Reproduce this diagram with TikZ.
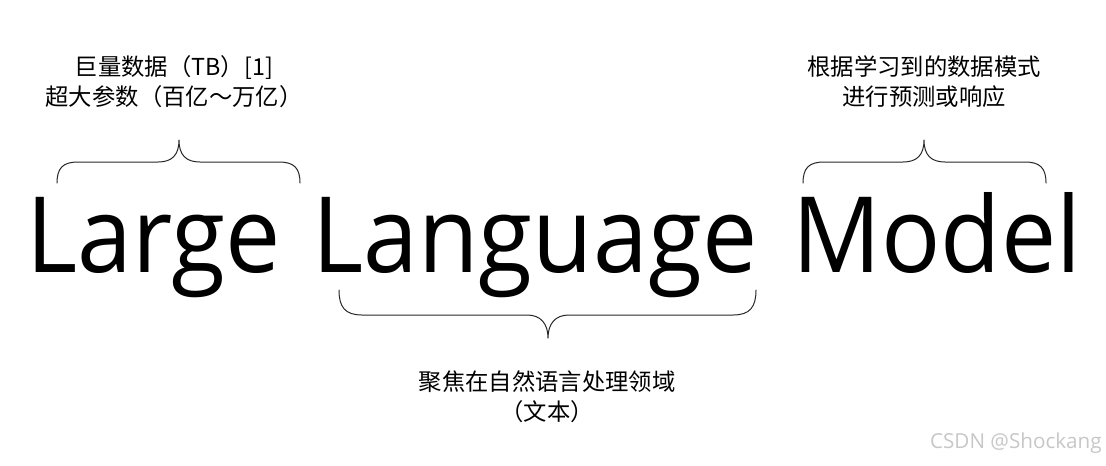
\documentclass[tikz,border=0pt]{standalone}
\usepackage{fontspec}
\setmainfont{Open Sans}
\newfontfamily\cjk{Noto Sans CJK SC}
\usetikzlibrary{positioning}
\tikzset{every picture/.style={line cap=round, line join=round}}
\tikzset{word/.style={inner sep=0pt, anchor=base, xscale=0.935, font=\fontsize{79pt}{90pt}\selectfont}}
\tikzset{note/.style={inner sep=0pt, align=center, font=\cjk\fontsize{17.5pt}{22.5pt}\selectfont}}
\tikzset{brace/.style={draw, line width=0.75pt, black!85}}
\tikzset{watermark/.style={inner sep=0pt, anchor=east, text=black!22, font=\fontsize{15.5pt}{18pt}\selectfont}}

\begin{document}
\begin{tikzpicture}[x=0.75pt, y=-0.75pt]
  \useasboundingbox (0,0) rectangle (1106,465);

  % 三个单词
  \node[word] (large)    at (154,272) {Large};
  \node[word] (language) at (535,272) {Language};
  \node[word] (model)    at (937,272) {Model};

  % 大括号
  \draw[brace] (57,183) .. controls (57,168) and (63,162) .. (78,162)
               -- (158,162) .. controls (172,162) and (179,155) .. (179,140)
               .. controls (179,155) and (186,162) .. (200,162)
               -- (279,162) .. controls (294,162) and (300,168) .. (300,183);
  \draw[brace] (803,183) .. controls (803,168) and (809,162) .. (824,162)
               -- (903,162) .. controls (917,162) and (924,155) .. (924,140)
               .. controls (924,155) and (931,162) .. (945,162)
               -- (1025,162) .. controls (1040,162) and (1046,168) .. (1046,183);
  \draw[brace] (339,290) .. controls (339,307) and (345,315) .. (362,315)
               -- (527,315) .. controls (541,315) and (548,324) .. (548,338)
               .. controls (548,324) and (555,315) .. (569,315)
               -- (733,315) .. controls (750,315) and (756,307) .. (756,290);

  % 说明
  \node[note] (scale) at (174,82)  {巨量数据（TB）[1]\\超大参数（百亿～万亿）};
  \node[note] (nlp)   at (547,397) {聚焦在自然语言处理领域\\（文本）};
  \node[note] (pred)  at (924,82)  {根据学习到的数据模式\\进行预测或响应};

  % 水印
  \node[watermark] (csdn) at (1102,443) {CSDN @Shockang};
\end{tikzpicture}
\end{document}
